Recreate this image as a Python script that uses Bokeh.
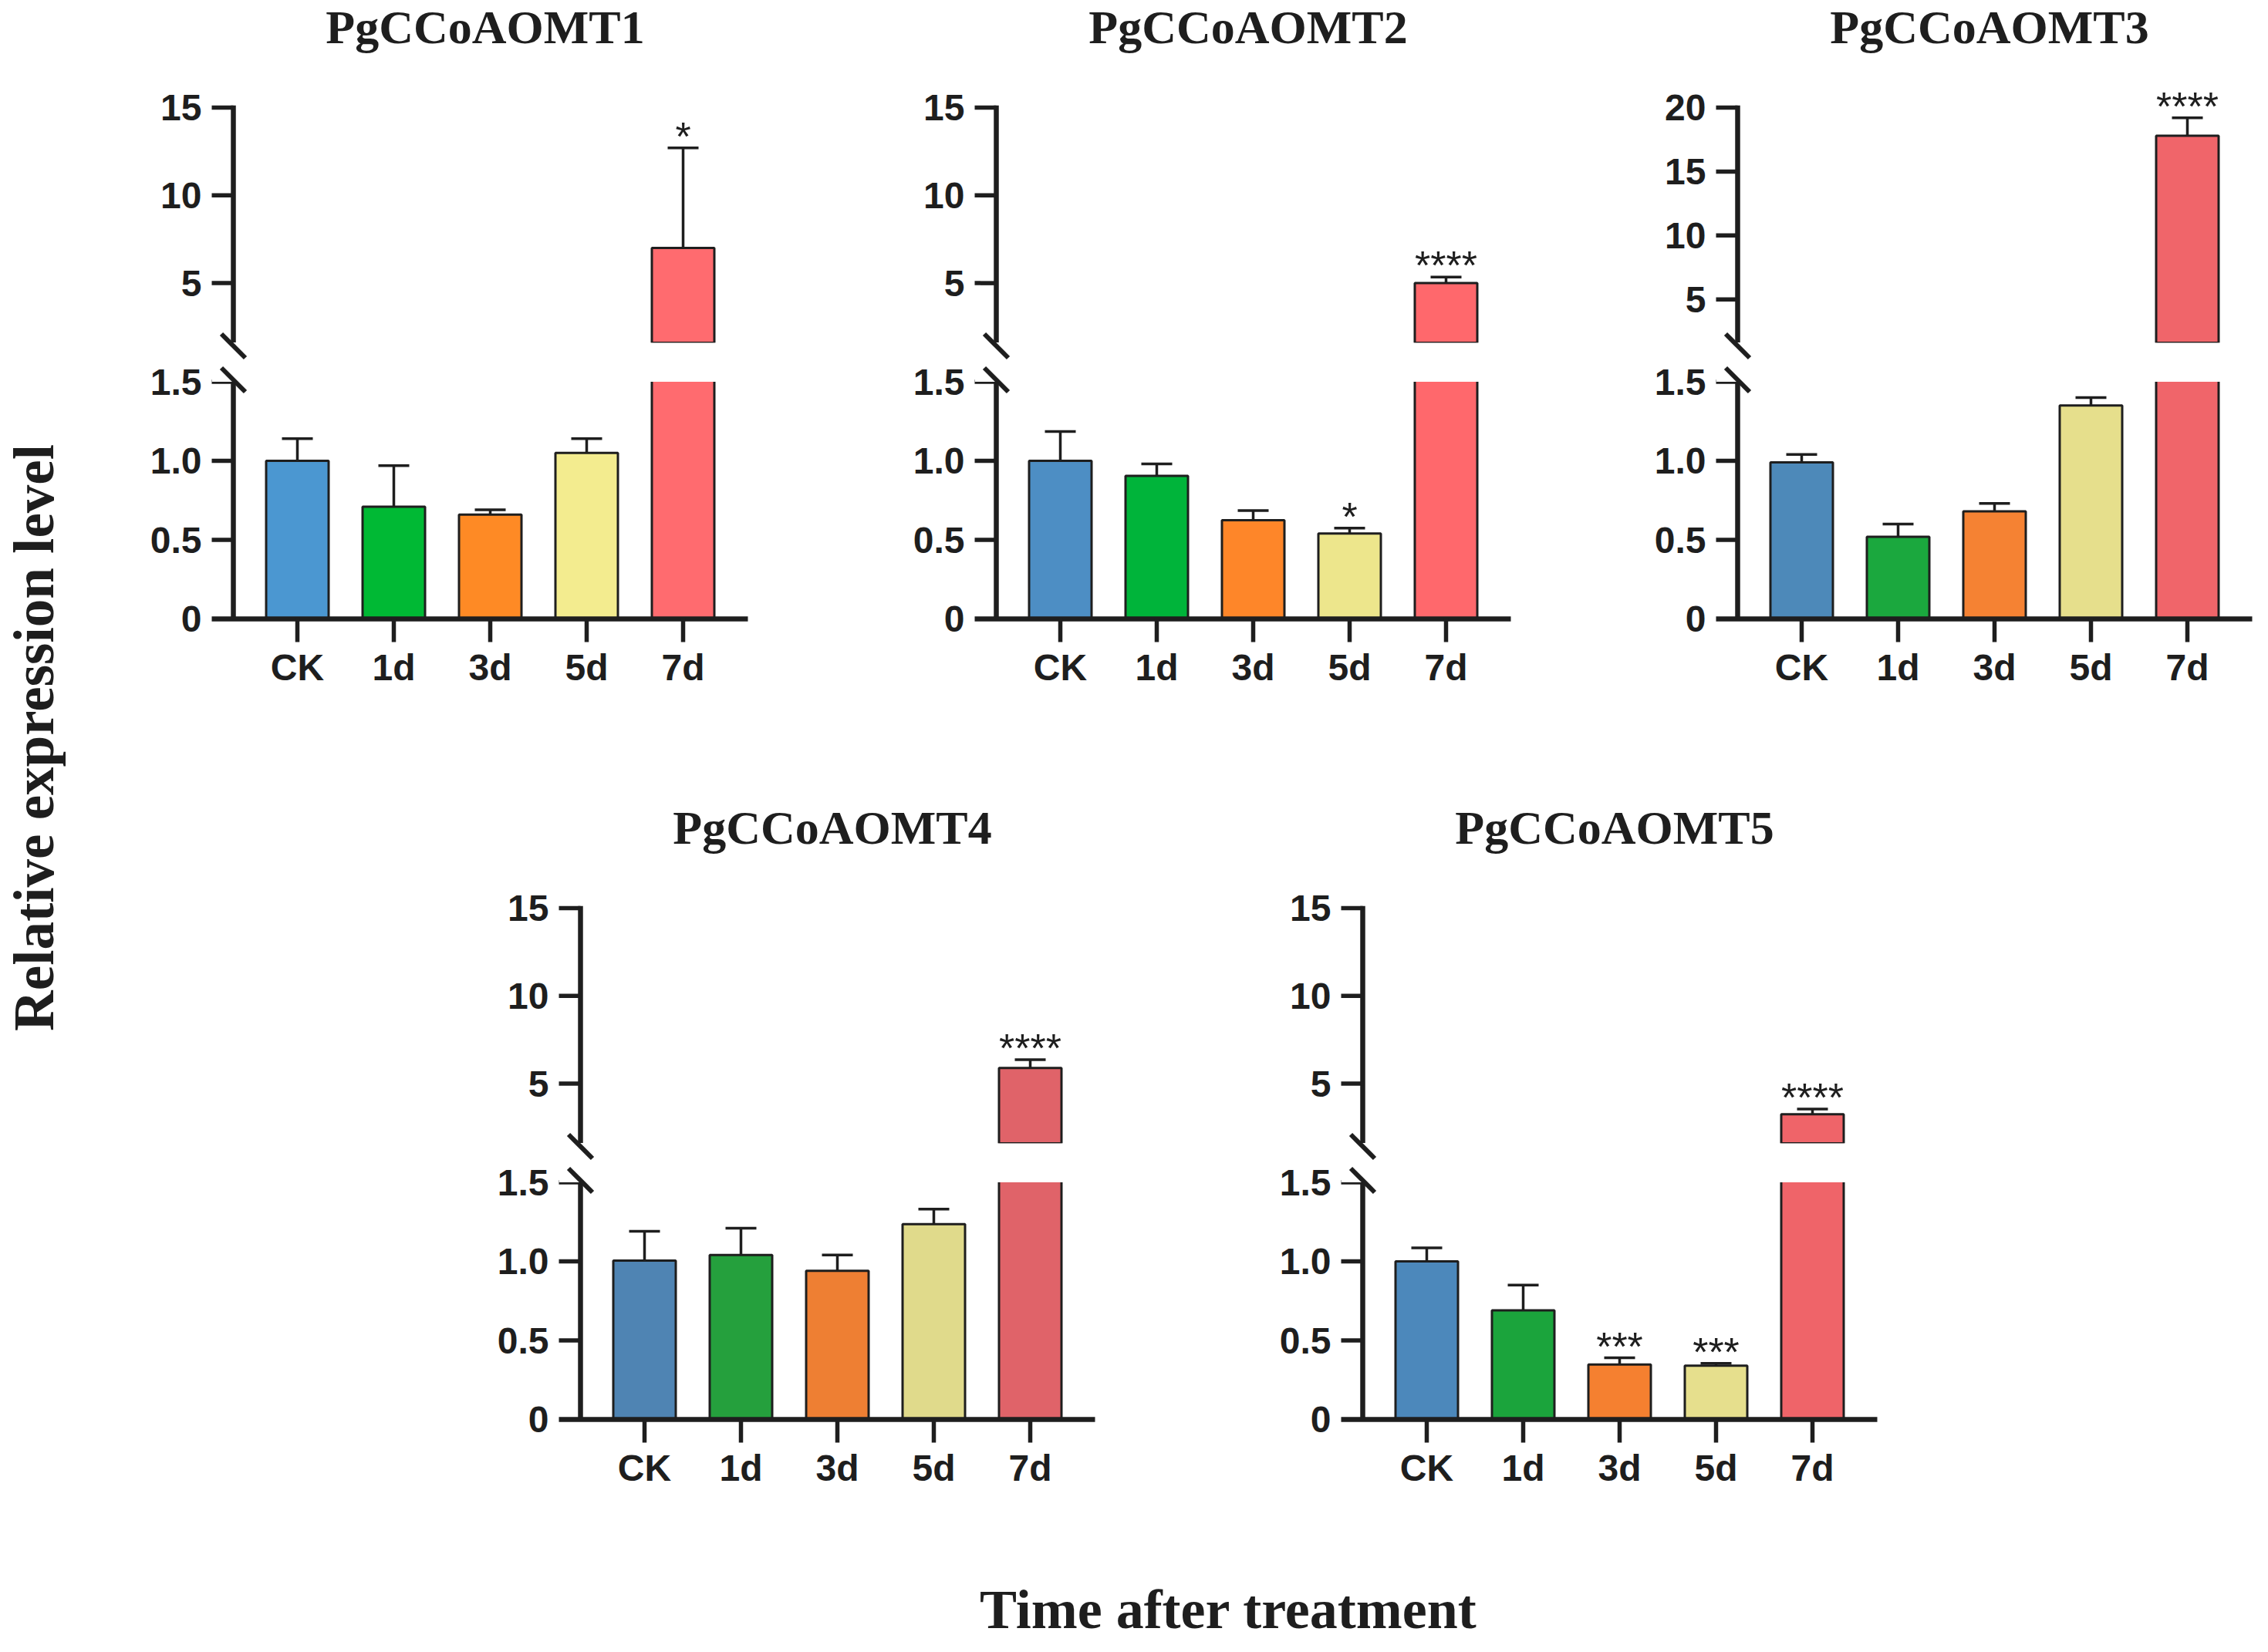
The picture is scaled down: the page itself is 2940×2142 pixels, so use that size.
import numpy as np
from bokeh.plotting import figure
from bokeh.layouts import row, column
from bokeh.models import FixedTicker, BoxAnnotation, ColumnDataSource, Range1d, Spacer
from bokeh.core.properties import value
from bokeh.embed import file_html
from bokeh.resources import INLINE

# ---------------- data ----------------
categories = ["CK", "1d", "3d", "5d", "7d"]
titles = ["PgCCoAOMT1", "PgCCoAOMT2", "PgCCoAOMT3", "PgCCoAOMT4", "PgCCoAOMT5"]

means_1 = [1.00, 0.71, 0.66, 1.05, 7.0]
sd_1 = [0.14, 0.26, 0.03, 0.09, 5.7]
stars_1 = ["", "", "", "", "*"]

means_2 = [1.00, 0.905, 0.625, 0.54, 5.0]
sd_2 = [0.185, 0.075, 0.06, 0.035, 0.35]
stars_2 = ["", "", "", "*", "****"]

means_3 = [0.99, 0.52, 0.68, 1.35, 17.8]
sd_3 = [0.05, 0.08, 0.05, 0.05, 1.4]
stars_3 = ["", "", "", "", "****"]

means_4 = [1.005, 1.04, 0.94, 1.235, 5.9]
sd_4 = [0.185, 0.17, 0.10, 0.095, 0.47]
stars_4 = ["", "", "", "", "****"]

means_5 = [1.0, 0.69, 0.347, 0.34, 3.26]
sd_5 = [0.085, 0.16, 0.043, 0.015, 0.30]
stars_5 = ["", "", "***", "***", "****"]

upper_top = [15, 15, 20, 15, 15]
upper_ticks = [[5, 10, 15], [5, 10, 15], [5, 10, 15, 20], [5, 10, 15], [5, 10, 15]]
lower_ticks = [0, 0.5, 1.0, 1.5]
lower_tick_labels = ["0", "0.5", "1.0", "1.5"]

colors_1 = ["#4b97d1", "#00b934", "#fe8a25", "#f3ec8f", "#ff6b6f"]
colors_2 = ["#4d8ec4", "#00b43a", "#fe8629", "#ede68c", "#ff686c"]
colors_3 = ["#4d89b9", "#1ba83e", "#f58233", "#e6df8c", "#f0656a"]
colors_4 = ["#4f84b3", "#25a03d", "#ee7f33", "#e0da8b", "#e06369"]
colors_5 = ["#4c88bb", "#1ba43c", "#f58030", "#e6df8d", "#ef6469"]

y_label = "Relative expression level"
x_label = "Time after treatment"

# ---------------- geometry ----------------
INK = "#1e1e1e"
FW = 695            # frame width
FHU = 444           # upper frame height (includes title area)
HEAD = 139          # px from frame top down to the top tick
FHL = 358           # lower frame height
X_LO, X_HI = -0.888, 4.672
Y_AX = -0.664       # y axis position in data units
A0 = 1.6            # bottom of upper segment
BREAK = 1.5         # top of lower segment
PPU_L = 205.0       # px per unit, lower
BW = 0.648
CAP = 0.16
PX_X = FW / (X_HI - X_LO)
TICK = 30
TOTAL_H = 2126
AXW = 6.5
TKW = 5.5
ELW = 3.5


def style_y(ax):
    ax.axis_line_color = None
    ax.major_tick_line_color = None
    ax.minor_tick_line_color = None
    ax.major_tick_out = 0
    ax.major_tick_in = 0
    ax.major_label_standoff = 13
    ax.major_label_text_font = "Liberation Sans"
    ax.major_label_text_font_style = "bold"
    ax.major_label_text_font_size = "48px"
    ax.major_label_text_color = INK


def style_x(ax):
    ax.axis_line_width = AXW
    ax.axis_line_color = INK
    ax.major_tick_line_width = TKW
    ax.major_tick_line_color = INK
    ax.major_tick_out = TICK
    ax.major_tick_in = 0
    ax.minor_tick_line_color = None
    ax.major_label_standoff = 6
    ax.major_label_text_font = "Liberation Sans"
    ax.major_label_text_font_style = "bold"
    ax.major_label_text_font_size = "48px"
    ax.major_label_text_color = INK


def y_axis_line(p, lo, hi, ticks, ppu):
    p.segment(x0=[Y_AX], y0=[lo], x1=[Y_AX], y1=[hi + 0.5 * TKW / ppu],
              line_width=AXW, line_color=INK)
    t = np.array(ticks, dtype=float)
    p.segment(x0=np.full(len(t), Y_AX - TICK / PX_X), y0=t, x1=np.full(len(t), Y_AX), y1=t,
              line_width=TKW, line_color=INK)


def slash(p, yc, ppu):
    dx = 15.5 / PX_X
    dy = 15.5 / ppu
    p.segment(x0=[Y_AX - dx], y0=[yc + dy], x1=[Y_AX + dx], y1=[yc - dy],
              line_width=6, line_color=INK, level="overlay")


def stars_text(p, xs, ys, ts):
    src = ColumnDataSource(dict(x=xs, y=ys, t=ts))
    p.text(x="x", y="y", text="t", source=src, text_font=value("Liberation Sans"),
           text_font_size="52px", text_align="center", text_baseline="middle",
           y_offset=-15, text_color=INK)


def make_panel(i, means, sds, stars, colors, left, right, bottom):
    means = np.array(means, dtype=float)
    sds = np.array(sds, dtype=float)
    errs = means + sds
    xs = np.arange(len(categories), dtype=float)
    top = upper_top[i]
    ppu_u = (FHU - HEAD) / (top - A0)
    yend_u = top + HEAD / ppu_u
    yend_l = FHL / PPU_L
    xr = Range1d(X_LO, X_HI)
    colors = np.array(colors)
    stars = np.array(stars)

    common = dict(frame_width=FW, x_range=xr, output_backend="svg", toolbar_location=None,
                  background_fill_color="white", border_fill_color="white",
                  outline_line_color=None, min_border_left=left, min_border_right=right)

    pu = figure(frame_height=FHU, y_range=Range1d(A0, yend_u), min_border_top=0,
                min_border_bottom=0, x_axis_location=None, **common)
    pl = figure(frame_height=FHL, y_range=Range1d(0, yend_l), min_border_top=0,
                min_border_bottom=bottom, **common)

    for p in (pu, pl):
        p.grid.visible = False
        style_y(p.yaxis[0])

    pu.yaxis.ticker = FixedTicker(ticks=upper_ticks[i])
    pl.yaxis.ticker = FixedTicker(ticks=lower_ticks)
    pl.yaxis.major_label_overrides = {t: s for t, s in zip(lower_ticks, lower_tick_labels)}

    style_x(pl.xaxis[0])
    pl.xaxis.ticker = FixedTicker(ticks=list(range(len(categories))))
    pl.xaxis.major_label_overrides = {k: c for k, c in enumerate(categories)}

    y_axis_line(pu, A0, top, upper_ticks[i], ppu_u)
    y_axis_line(pl, 0, BREAK, lower_ticks[1:], PPU_L)

    # panel title
    pu.text(x=[(X_LO + X_HI) / 2 + 7 / PX_X], y=[yend_u - 34 / ppu_u], text=[titles[i]],
            text_font=value("Liberation Serif"), text_font_style="bold",
            text_font_size="62px", text_align="center", text_baseline="middle",
            text_line_height=1.0, text_color=INK)

    hi = means > A0
    lo = ~hi

    # upper segment
    src_hi = ColumnDataSource(dict(x=xs[hi], top=means[hi], err=errs[hi], c=colors[hi],
                                   xl=xs[hi] - CAP, xr=xs[hi] + CAP))
    pu.vbar(x="x", top="top", bottom=0, width=BW, fill_color="c",
            line_color=INK, line_width=3, source=src_hi)
    pu.segment(x0="x", y0="top", x1="x", y1="err", line_color=INK, line_width=ELW, source=src_hi)
    pu.segment(x0="xl", y0="err", x1="xr", y1="err", line_color=INK, line_width=ELW, source=src_hi)
    sm = hi & (stars != "")
    stars_text(pu, xs[sm], errs[sm], stars[sm])

    # lower segment: every bar, tall ones cut above the break
    src_all = ColumnDataSource(dict(x=xs, top=means, c=colors))
    pl.vbar(x="x", top="top", bottom=0, width=BW, fill_color="c", line_color=INK,
            line_width=3, source=src_all)
    src_lo = ColumnDataSource(dict(x=xs[lo], top=means[lo], err=errs[lo],
                                   xl=xs[lo] - CAP, xr=xs[lo] + CAP))
    pl.segment(x0="x", y0="top", x1="x", y1="err", line_color=INK, line_width=ELW, source=src_lo)
    pl.segment(x0="xl", y0="err", x1="xr", y1="err", line_color=INK, line_width=ELW, source=src_lo)
    sm = lo & (stars != "")
    stars_text(pl, xs[sm], errs[sm], stars[sm])

    pl.add_layout(BoxAnnotation(bottom=BREAK, fill_color="white", fill_alpha=1.0,
                                line_alpha=0))

    # axis break marks
    slash(pu, A0 - 4 / ppu_u, ppu_u)
    slash(pl, yend_l - 4 / PPU_L, PPU_L)
    slash(pl, BREAK + 2.5 / PPU_L, PPU_L)

    return column(pu, pl)


p1 = make_panel(0, means_1, sd_1, stars_1, colors_1, 144, 150, 236)
p2 = make_panel(1, means_2, sd_2, stars_2, colors_2, 144, 122, 236)
p3 = make_panel(2, means_3, sd_3, stars_3, colors_3, 144, 4, 236)
p4 = make_panel(3, means_4, sd_4, stars_4, colors_4, 144, 175, 150)
p5 = make_panel(4, means_5, sd_5, stars_5, colors_5, 144, 100, 150)

row1 = row(p1, p2, p3)
row2 = row(Spacer(width=450, height=10), p4, p5)

MAIN_W = 989 + 961 + 843
XL_H = 136
xl = figure(width=MAIN_W, height=XL_H, x_range=Range1d(0, MAIN_W), y_range=Range1d(XL_H, 0),
            min_border=0, toolbar_location=None, output_backend="svg",
            x_axis_location=None, y_axis_location=None, outline_line_color=None,
            background_fill_color="white", border_fill_color="white")
xl.grid.visible = False
xl.text(x=[1462], y=[96], text=[x_label], text_font=value("Liberation Serif"),
        text_font_style="bold", text_font_size="72px", text_align="center",
        text_baseline="middle", text_line_height=1.0, text_color=INK)

yl = figure(width=130, height=TOTAL_H, x_range=Range1d(0, 130), y_range=Range1d(TOTAL_H, 0),
            min_border=0, toolbar_location=None, output_backend="svg",
            x_axis_location=None, y_axis_location=None, outline_line_color=None,
            background_fill_color="white", border_fill_color="white")
yl.grid.visible = False
yl.text(x=[44], y=[956], text=[y_label], angle=np.pi / 2, text_font=value("Liberation Serif"),
        text_font_style="bold", text_font_size="73px", text_align="center",
        text_baseline="middle", text_line_height=1.0, text_color=INK)

layout = row(yl, column(row1, row2, xl))

open("out.html", "w").write(file_html(layout, INLINE))
